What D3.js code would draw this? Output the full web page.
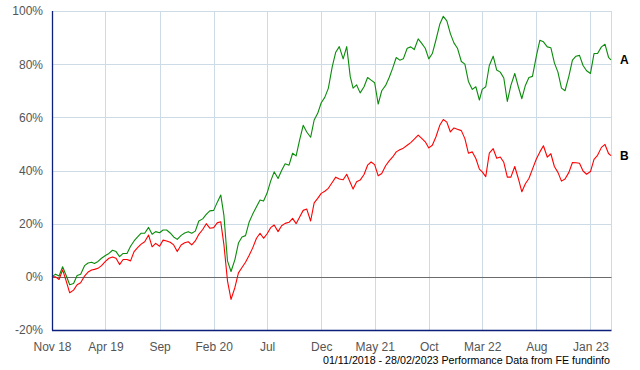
<!DOCTYPE html>
<html>
<head>
<meta charset="utf-8">
<script src="https://cdn.jsdelivr.net/npm/d3@7"></script>
<style>
html,body{margin:0;padding:0;background:#fff;}
svg{display:block;font-family:"Liberation Sans",Arial,sans-serif;}
</style>
</head>
<body>
<svg id="chart" width="640" height="370"></svg>
<script>
const dates = [
"2018-11-01","2018-11-11","2018-11-21","2018-12-01","2018-12-11","2018-12-21",
"2019-01-01","2019-01-11","2019-01-21","2019-02-01","2019-02-11","2019-02-21",
"2019-03-01","2019-03-11","2019-03-21","2019-04-01","2019-04-11","2019-04-21",
"2019-05-01","2019-05-11","2019-05-21","2019-06-01","2019-06-11","2019-06-21",
"2019-07-01","2019-07-11","2019-07-21","2019-08-01","2019-08-11","2019-08-21",
"2019-09-01","2019-09-11","2019-09-21","2019-10-01","2019-10-11","2019-10-21",
"2019-11-01","2019-11-11","2019-11-21","2019-12-01","2019-12-11","2019-12-21",
"2020-01-01","2020-01-11","2020-01-21","2020-02-01","2020-02-11","2020-02-21",
"2020-03-01","2020-03-11","2020-03-21","2020-04-01","2020-04-11","2020-04-21",
"2020-05-01","2020-05-11","2020-05-21","2020-06-01","2020-06-11","2020-06-21",
"2020-07-01","2020-07-11","2020-07-21","2020-08-01","2020-08-11","2020-08-21",
"2020-09-01","2020-09-11","2020-09-21","2020-10-01","2020-10-11","2020-10-21",
"2020-11-01","2020-11-11","2020-11-21","2020-12-01","2020-12-11","2020-12-21",
"2021-01-01","2021-01-11","2021-01-21","2021-02-01","2021-02-11","2021-02-21",
"2021-03-01","2021-03-11","2021-03-21","2021-04-01","2021-04-11","2021-04-21",
"2021-05-01","2021-05-11","2021-05-21","2021-06-01","2021-06-11","2021-06-21",
"2021-07-01","2021-07-11","2021-07-21","2021-08-01","2021-08-11","2021-08-21",
"2021-09-01","2021-09-11","2021-09-21","2021-10-01","2021-10-11","2021-10-21",
"2021-11-01","2021-11-11","2021-11-21","2021-12-01","2021-12-11","2021-12-21",
"2022-01-01","2022-01-11","2022-01-21","2022-02-01","2022-02-11","2022-02-21",
"2022-03-01","2022-03-11","2022-03-21","2022-04-01","2022-04-11","2022-04-21",
"2022-05-01","2022-05-11","2022-05-21","2022-06-01","2022-06-11","2022-06-21",
"2022-07-01","2022-07-11","2022-07-21","2022-08-01","2022-08-11","2022-08-21",
"2022-09-01","2022-09-11","2022-09-21","2022-10-01","2022-10-11","2022-10-21",
"2022-11-01","2022-11-11","2022-11-21","2022-12-01","2022-12-11","2022-12-21",
"2023-01-01","2023-01-11","2023-01-21","2023-02-01","2023-02-11","2023-02-21","2023-02-28"
];

const seriesA = [
0,1,0.3, 3.8,0.5,-3,
-2.5,0.5,1, 4.2,5.2,5.5,
5,5.8,7, 8,8.8,10,
9.5,7.6,8.8, 8.8,11.5,13.5,
15,16.4,16.4, 18.6,16,17,
16.6,17.6,17.6, 16.5,15,14.1,
15.6,16.5,17, 16.4,17.2,21,
21.8,23.5,24.8, 25,28,30.8,
23,6,2, 6.5,12.7,15,
15.5,20.5,23.5, 26.4,28.9,28.5,
31.5,36,39.5, 37,40,42.5,
42,46.5,45.5, 51.5,57,54.5,
52.5,59,61.5, 65.5,67.5,70.9,
79,84.5,86.6, 82,86.6,75.3,
71,72.2,69.2, 71.5,75,74,
73,65,70, 72,75,78.5,
82.5,81.5,82, 86,86.5,85.5,
89.5,87.8,86, 82,84,89,
95,98,96.3, 91.5,88,86,
81,80,73.5, 70.5,71.5,66.5,
70.5,71.5,79.5, 83,77.8,77,
74.8,66,72, 76.5,71.5,67,
72,75,75.4, 83,89,88.4,
86.5,86.2,80.5, 77,71,70,
75.5,81.5,83, 83.3,79.5,77.5,
76.5,84,84, 86.5,87.5,82.6,81.6
];

const seriesB = [
0,0,-1, 2.6,-1.5,-6,
-5,-3,-2.2, 0.3,1.8,2.6,
2.8,3.2,4.2, 5.8,7,7.5,
7,4.6,6.5, 6.5,6,9.5,
11,12.3,13.2, 15.7,11.3,12.6,
11.5,13.8,13.5, 13,12,9.5,
12,12.8,13.2, 12,13.5,16,
17.8,20,18.3, 18.5,20.3,20.7,
12,-1.5,-8.5, -4,1.5,3.5,
5.5,8,10.8, 14.5,16.4,14.5,
16.2,18.5,19.5, 17,19.2,20.1,
20.5,22,20, 22.5,25,25.5,
21,27.8,29.5, 31.4,32.2,33.3,
35.5,37.5,36.8, 36.5,38.6,35.5,
33,35.8,36.4, 38.5,42,43.2,
42.2,38,38.9, 41.8,43.6,45.1,
47,47.8,48.4, 49.5,50.5,51.8,
53.3,52.1,50.8, 48.5,49.5,52.6,
57,59.2,58.2, 54.5,56,55.5,
55,52,46.5, 47,44.5,40.5,
39.5,37.7,46.5, 48.2,44.6,45.1,
43.1,37.5,37.5, 41.5,37,32,
35,37,40.5, 44.3,47,49.3,
45,46.3,41.5, 39.3,36,36.8,
39.3,43,42.9, 42.7,39.8,38.6,
39.6,44.2,45.7, 48.7,49.8,46.4,45.6
];

const seriesNames = ["A","B"];
const seriesColors = ["#0a8c0a","#ff0000"];
const yTicks = [-20,0,20,40,60,80,100];
const xTickDates = ["2018-11-01","2019-04-01","2019-09-01","2020-02-01","2020-07-01","2020-12-01","2021-05-01","2021-10-01","2022-03-01","2022-08-01","2023-01-01"];
const xTickLabels = ["Nov 18","Apr 19","Sep","Feb 20","Jul","Dec","May 21","Oct","Mar 22","Aug","Jan 23"];
const footer = "01/11/2018 - 28/02/2023 Performance Data from FE fundinfo";

(function () {
const parse = d3.timeParse("%Y-%m-%d");
const X = dates.map(parse);
const pL = 52, pR = 611, pT = 11, pB = 330;

const x = d3.scaleTime().domain([parse("2018-11-01"), parse("2023-02-28")]).range([pL, pR]);
const y = d3.scaleLinear().domain([-20, 100]).range([pB, pT]);

const svg = d3.select("#chart");

// horizontal gridlines
svg.append("g").selectAll("line").data(yTicks.filter(v => v !== -20 && v !== 0)).join("line")
  .attr("x1", pL).attr("x2", pR + 0.5)
  .attr("y1", d => Math.round(y(d)) + 0.5).attr("y2", d => Math.round(y(d)) + 0.5)
  .attr("stroke", "#cddbe7").attr("stroke-width", 1);

// vertical gridlines
const xt = xTickDates.map(parse);
svg.append("g").selectAll("line").data(xt.slice(1).concat([parse("2023-02-28")])).join("line")
  .attr("x1", d => Math.round(x(d)) + 0.5).attr("x2", d => Math.round(x(d)) + 0.5)
  .attr("y1", pT).attr("y2", pB)
  .attr("stroke", "#cddbe7").attr("stroke-width", 1);

// zero line
svg.append("line")
  .attr("x1", pL).attr("x2", pR + 0.5)
  .attr("y1", Math.round(y(0)) + 0.5).attr("y2", Math.round(y(0)) + 0.5)
  .attr("stroke", "#6b6b6b").attr("stroke-width", 1);

// series lines
const series = [seriesA, seriesB];
const line = d3.line().x((d, i) => x(X[i])).y(d => y(d));
series.forEach((s, k) => {
  svg.append("path").datum(s)
    .attr("fill", "none")
    .attr("stroke", seriesColors[k])
    .attr("stroke-width", 1.1)
    .attr("stroke-linejoin", "round")
    .attr("d", line);
});

// axes
const yAxis = d3.axisLeft(y).tickValues(yTicks).tickFormat(d => d + "%").tickSize(0).tickPadding(9);
const gy = svg.append("g").attr("transform", `translate(${pL},0)`).call(yAxis);
gy.select(".domain").remove();
gy.selectAll("text").attr("fill", "#555").style("font-size", "12px").style("font-family", "'Liberation Sans',Arial,sans-serif");

const xAxis = d3.axisBottom(x).tickValues(xt).tickFormat((d, i) => xTickLabels[i]).tickSize(0).tickPadding(12);
const gx = svg.append("g").attr("transform", `translate(0,${pB})`).call(xAxis);
gx.select(".domain").remove();
gx.selectAll("text").attr("fill", "#555").style("font-size", "12px").style("font-family", "'Liberation Sans',Arial,sans-serif");

// axis lines (navy)
svg.append("line").attr("x1", pL + 0.5).attr("x2", pL + 0.5).attr("y1", pT).attr("y2", pB + 0.5)
  .attr("stroke", "#0c1f7a").attr("stroke-width", 1.3);
svg.append("line").attr("x1", pL).attr("x2", pR + 0.5).attr("y1", pB + 0.5).attr("y2", pB + 0.5)
  .attr("stroke", "#0c1f7a").attr("stroke-width", 1.3);

// end labels
series.forEach((s, k) => {
  svg.append("text")
    .attr("x", 620).attr("y", y(s[s.length - 1]))
    .attr("dy", "0.35em")
    .attr("fill", "#000").style("font-weight", "bold").style("font-size", "12px")
    .text(seriesNames[k]);
});

// footer
svg.append("text").attr("x", 323).attr("y", 364)
  .attr("textLength", 287).attr("lengthAdjust", "spacingAndGlyphs")
  .attr("fill", "#000").style("font-size", "11px")
  .text(footer);
})();
</script>
</body>
</html>
